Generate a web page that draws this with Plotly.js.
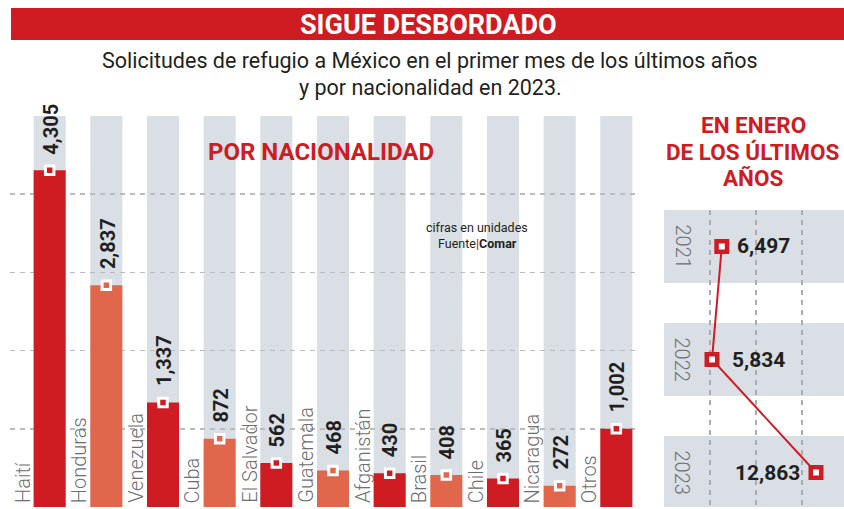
<!DOCTYPE html>
<html>
<head>
<meta charset="utf-8">
<script src="https://cdn.plot.ly/plotly-3.0.1.min.js"></script>
<style>html,body{margin:0;padding:0;background:#fff;}#chart{width:844px;height:509px;}</style>
</head>
<body>
<div id="chart"></div>
<script>
// Data
const countries = ['Haití','Honduras','Venezuela','Cuba','El Salvador','Guatemala','Afganistán','Brasil','Chile','Nicaragua','Otros'];
const requests2023 = [4305, 2837, 1337, 872, 562, 468, 430, 408, 365, 272, 1002];
const years = ['2021','2022','2023'];
const januaryTotals = [6497, 5834, 12863];

const RED = '#cf1b22', ORANGE = '#e0674b', GRAYBAND = '#d9dfe5', INK = '#231f20', LABEL = '#6d6e71';
const FONT = 'Roboto, "Liberation Sans", sans-serif';
const W = 844, H = 509;
const px = v => v / W, py = v => (H - v) / H;

const barColors = countries.map((c, i) => i % 2 === 0 ? RED : ORANGE);
const fmt = v => v.toLocaleString('en-US');

const traces = [
  {
    type: 'bar', x: countries, y: requests2023, xaxis: 'x', yaxis: 'y',
    marker: {color: barColors}, width: 0.565, hoverinfo: 'skip'
  },
  {
    type: 'scatter', mode: 'markers', x: countries, y: requests2023, xaxis: 'x', yaxis: 'y',
    marker: {symbol: 'square', size: 8.5, color: barColors, line: {color: '#fff', width: 3}},
    cliponaxis: false, hoverinfo: 'skip'
  },
  {
    type: 'scatter', mode: 'lines+markers', x: januaryTotals, y: years, xaxis: 'x2', yaxis: 'y2',
    line: {color: RED, width: 2},
    marker: {symbol: 'square', size: 10.5, color: '#fff', line: {color: RED, width: 4.5}},
    cliponaxis: false, hoverinfo: 'skip'
  }
];

const shapes = [
  // header band
  {type: 'rect', xref: 'paper', yref: 'paper', x0: px(11), x1: 1, y0: py(40), y1: py(8), fillcolor: RED, line: {width: 0}, layer: 'below'}
];
// gray columns behind bars
countries.forEach((c, i) => {
  shapes.push({type: 'rect', xref: 'x', yref: 'y', x0: i - 0.2825, x1: i + 0.2825, y0: 0, y1: 5000,
    fillcolor: GRAYBAND, line: {width: 0}, layer: 'below'});
});
// gray row bands on the right panel
years.forEach((y, i) => {
  shapes.push({type: 'rect', xref: 'x2 domain', yref: 'y2', x0: 0, x1: 1, y0: i - 0.323, y1: i + 0.323,
    fillcolor: GRAYBAND, line: {width: 0}, layer: 'below'});
});

const annotations = [
  {text: '<b>SIGUE DESBORDADO</b>', xref: 'paper', yref: 'paper', x: px(428), y: py(25), showarrow: false,
   font: {family: FONT, size: 27, color: '#fff'}, xanchor: 'center', yanchor: 'middle'},
  {text: 'Solicitudes de refugio a México en el primer mes de los últimos años',
   xref: 'paper', yref: 'paper', x: px(430), y: py(60), showarrow: false,
   font: {family: FONT, size: 21.5, color: INK}, xanchor: 'center', yanchor: 'middle'},
  {text: 'y por nacionalidad en 2023.',
   xref: 'paper', yref: 'paper', x: px(430), y: py(87), showarrow: false,
   font: {family: FONT, size: 21.5, color: INK}, xanchor: 'center', yanchor: 'middle'},
  {text: '<b>POR NACIONALIDAD</b>', xref: 'paper', yref: 'paper', x: px(321), y: py(152), showarrow: false,
   font: {family: FONT, size: 24, color: RED}, xanchor: 'center', yanchor: 'middle'},
  {text: 'cifras en unidades', xref: 'paper', yref: 'paper', x: px(477), y: py(227), showarrow: false,
   font: {family: FONT, size: 12.5, color: INK}, xanchor: 'center', yanchor: 'middle'},
  {text: 'Fuente<span style="color:' + RED + '"><b>|</b></span><b>Comar</b>', xref: 'paper', yref: 'paper', x: px(477), y: py(243), showarrow: false,
   font: {family: FONT, size: 12.5, color: INK}, xanchor: 'center', yanchor: 'middle'}
];
['EN ENERO', 'DE LOS ÚLTIMOS', 'AÑOS'].forEach((line, i) => {
  annotations.push({text: '<b>' + line + '</b>', xref: 'paper', yref: 'paper', x: px(753), y: py(125 + 26.5 * i), showarrow: false,
   font: {family: FONT, size: 22.5, color: RED}, xanchor: 'center', yanchor: 'middle'});
});

countries.forEach((c, i) => {
  annotations.push({text: c, xref: 'x', yref: 'y', x: i - 0.48, y: 0, yshift: 2, textangle: -90, showarrow: false,
    xanchor: 'center', yanchor: 'bottom', font: {family: FONT, size: 20, color: LABEL, weight: 300}});
  annotations.push({text: '<b>' + fmt(requests2023[i]) + '</b>', xref: 'x', yref: 'y', x: i + 0.02, y: requests2023[i],
    yshift: 14, textangle: -90, showarrow: false, xanchor: 'center', yanchor: 'bottom',
    font: {family: FONT, size: 20, color: INK}});
});

const rightShift = [13, 18, -14];
years.forEach((y, i) => {
  annotations.push({text: y, xref: 'paper', yref: 'y2', x: px(682), y: i, textangle: 90, showarrow: false,
    xanchor: 'center', yanchor: 'middle', font: {family: FONT, size: 20, color: LABEL, weight: 300}});
  annotations.push({text: '<b>' + fmt(januaryTotals[i]) + '</b>', xref: 'x2', yref: 'y2', x: januaryTotals[i], y: i,
    xshift: rightShift[i], xanchor: rightShift[i] > 0 ? 'left' : 'right', yanchor: 'middle', showarrow: false,
    font: {family: FONT, size: 21, color: INK}});
});

const layout = {
  width: W, height: H,
  margin: {l: 0, r: 0, t: 0, b: 0},
  paper_bgcolor: '#fff', plot_bgcolor: 'rgba(0,0,0,0)',
  showlegend: false, barmode: 'overlay',
  font: {family: FONT},
  xaxis: {domain: [px(10), px(639)], range: [-0.7, 10.4], type: 'category', showticklabels: false,
          showgrid: false, zeroline: false, showline: false, ticks: '', fixedrange: true},
  yaxis: {domain: [py(507), py(116)], range: [0, 5000], tickvals: [1000, 2000, 3000, 4000], showticklabels: false,
          showgrid: true, gridcolor: '#b9bcbf', griddash: '5px,5px', gridwidth: 1.5, zeroline: false, showline: false, ticks: ''},
  xaxis2: {domain: [px(664), 1], range: [2590, 14755], anchor: 'y2', tickvals: [5700, 8810, 11920], showticklabels: false,
           showgrid: true, gridcolor: '#a9adb1', griddash: '5px,5px', gridwidth: 1.2, zeroline: false, showline: false, ticks: ''},
  yaxis2: {domain: [py(507), py(210)], anchor: 'x2', type: 'category', range: [2.305, -0.323], showticklabels: false,
           showgrid: false, zeroline: false, showline: false, ticks: ''},
  shapes: shapes,
  annotations: annotations
};

Plotly.newPlot('chart', traces, layout, {displayModeBar: false, staticPlot: true});
</script>
</body>
</html>
